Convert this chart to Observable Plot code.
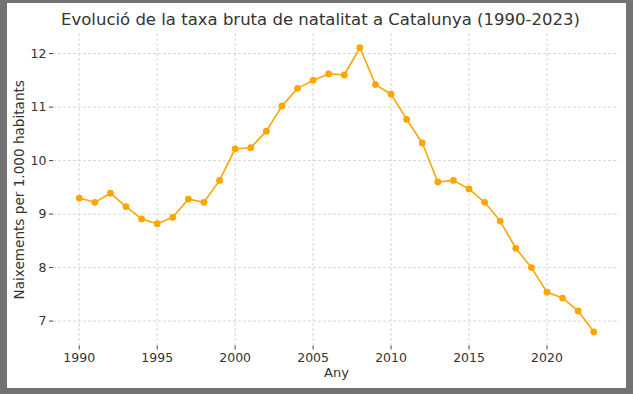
<!DOCTYPE html>
<html>
<head>
<meta charset="utf-8">
<script src="https://cdn.jsdelivr.net/npm/d3@7"></script>
<script src="https://cdn.jsdelivr.net/npm/@observablehq/plot@0.6"></script>
<style>
  html, body { margin: 0; padding: 0; background: #737373; width: 633px; height: 394px; overflow: hidden; }
  #frame { position: absolute; left: 7px; top: 3px; width: 619px; height: 385px; background: #ffffff; }
  #title { position: absolute; left: 0; top: 7px; width: 611px; padding-left: 8px; text-align: center; font-family: "DejaVu Sans"; font-size: 16.5px; line-height: normal; color: #333333; white-space: nowrap; }
  #chart { position: absolute; left: 0; top: 27px; }
</style>
</head>
<body>
<div id="frame">
  <div id="title">Evolució de la taxa bruta de natalitat a Catalunya (1990-2023)</div>
  <div id="chart"></div>
</div>
<script>
const years = [1990,1991,1992,1993,1994,1995,1996,1997,1998,1999,2000,2001,2002,2003,2004,2005,2006,2007,2008,2009,2010,2011,2012,2013,2014,2015,2016,2017,2018,2019,2020,2021,2022,2023];
const rates = [9.30,9.22,9.39,9.14,8.91,8.82,8.94,9.28,9.22,9.63,10.22,10.24,10.55,11.02,11.35,11.50,11.62,11.60,12.11,11.42,11.24,10.77,10.33,9.60,9.63,9.47,9.22,8.87,8.36,8.00,7.54,7.43,7.19,6.80];
const xTicks = [1990,1995,2000,2005,2010,2015,2020];
const yTicks = [7,8,9,10,11,12];
const xLabel = "Any";
const yLabel = "Naixements per 1.000 habitants";

const data = years.map((year, i) => ({year, rate: rates[i]}));
const [xmin, xmax] = d3.extent(years);
const [ymin, ymax] = d3.extent(rates);
const xm = (xmax - xmin) * 0.05, ym = (ymax - ymin) * 0.05;

const chart = Plot.plot({
  width: 619,
  height: 358,
  marginLeft: 46,
  marginRight: 7,
  marginTop: 3,
  marginBottom: 42.5,
  style: { fontFamily: "DejaVu Sans", fontSize: "12.5px", color: "#333", background: "transparent", overflow: "visible" },
  x: { domain: [xmin - xm, xmax + xm] },
  y: { domain: [ymin - ym, ymax + ym] },
  marks: [
    Plot.gridX(xTicks, { stroke: "#cccccc", strokeOpacity: 1, strokeWidth: 0.8, strokeDasharray: "3,2" }),
    Plot.gridY(yTicks, { stroke: "#cccccc", strokeOpacity: 1, strokeWidth: 0.8, strokeDasharray: "3,2" }),
    Plot.axisX(xTicks, { tickFormat: d => String(d), tickSize: 4, tickPadding: 3, line: true, stroke: "#444", fill: "#333", label: null }),
    Plot.axisY(yTicks, { tickFormat: d => String(d), tickSize: 4, tickPadding: 3, line: true, stroke: "#444", fill: "#333", label: null }),
    Plot.axisX([], { tickSize: 0, fontSize: 13, fill: "#333",
      label: xLabel, labelAnchor: "center", labelArrow: "none", labelOffset: 31 }),
    Plot.axisY([], { tickSize: 0, fontSize: 13.6, fill: "#333",
      label: yLabel, labelAnchor: "center", labelArrow: "none", labelOffset: 39 }),
    Plot.line(data, { x: "year", y: "rate", stroke: "#FFA500", strokeWidth: 1.6 }),
    Plot.dot(data, { x: "year", y: "rate", fill: "#FFA500", r: 3.4 })
  ]
});
document.getElementById("chart").appendChild(chart);
</script>
</body>
</html>
